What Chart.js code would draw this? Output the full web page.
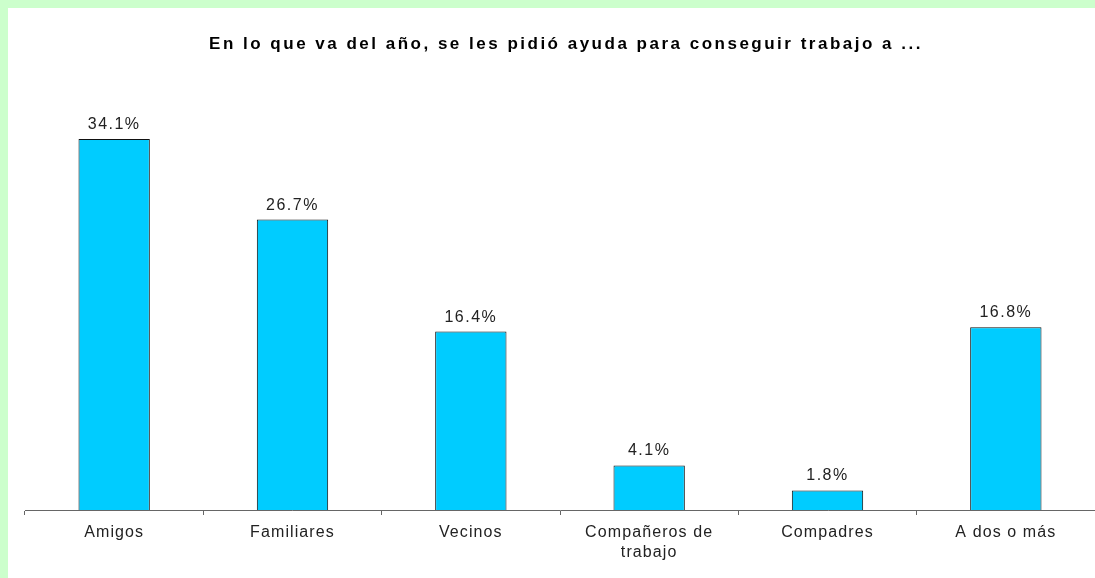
<!DOCTYPE html>
<html>
<head>
<meta charset="utf-8">
<script src="https://cdn.jsdelivr.net/npm/chart.js@4/dist/chart.umd.min.js"></script>
<style>
  html, body { margin: 0; padding: 0; }
  body { background: #ccffcc; width: 1095px; height: 578px; overflow: hidden; position: relative; }
  #wrap { position: absolute; left: 8px; top: 8px; width: 1114px; height: 570px; background: #fff; }
</style>
</head>
<body>
<div id="wrap"><canvas id="chart"></canvas></div>
<script>
const categories = ["Amigos", "Familiares", "Vecinos", ["Compañeros de", "trabajo"], "Compadres", "A dos o más"];
const values = [34.1, 26.7, 16.4, 4.1, 1.8, 16.8];
const titleText = "En lo que va del año, se les pidió ayuda para conseguir trabajo a ...";

// espaciado de letras como en el original (etiquetas del eje)
const spacing = {
  id: "spacing",
  beforeLayout(chart) { chart.ctx.letterSpacing = "1.1px"; },
  beforeDraw(chart) { chart.ctx.letterSpacing = "1.1px"; }
};

// etiquetas de porcentaje sobre cada barra
const barLabels = {
  id: "barLabels",
  afterDatasetsDraw(chart) {
    const ctx = chart.ctx;
    const meta = chart.getDatasetMeta(0);
    ctx.save();
    ctx.letterSpacing = "1.5px";
    ctx.font = "16px 'Liberation Sans', Arial, sans-serif";
    ctx.fillStyle = "#222";
    ctx.textAlign = "center";
    ctx.textBaseline = "alphabetic";
    meta.data.forEach((bar, i) => {
      ctx.fillText(values[i].toFixed(1) + "%", bar.x, bar.y - 10);
    });
    ctx.restore();
  }
};

Chart.defaults.font.family = "'Liberation Sans', Arial, sans-serif";
Chart.defaults.color = "#222";

const chart = new Chart(document.getElementById("chart").getContext("2d"), {
  type: "bar",
  data: {
    labels: categories,
    datasets: [
      {
        data: values,
        backgroundColor: "#00ccff",
        borderColor: "#111",
        borderWidth: 1,
        categoryPercentage: 1,
        barPercentage: 0.4,
      },
    ],
  },
  options: {
    responsive: true,
    maintainAspectRatio: false,
    animation: false,
    layout: { padding: { left: 17, right: 27, top: 0, bottom: 7 } },
    plugins: {
      legend: { display: false },
      tooltip: { enabled: false },
      title: {
        display: true,
        text: titleText,
        color: "#000",
        font: { size: 17, weight: "bold" },
        padding: { top: 26, bottom: 64 },
      },
    },
    scales: {
      x: {
        grid: {
          offset: true,
          drawOnChartArea: false,
          drawTicks: true,
          tickLength: 5,
          color: "#666",
        },
        border: { display: true, color: "#666", width: 1 },
        ticks: {
          maxRotation: 0,
          autoSkip: false,
          padding: 8,
          color: "#222",
          font: { size: 16, lineHeight: 1.25 },
        },
      },
      y: {
        display: false,
        min: 0,
        max: 36,
      },
    },
  },
  plugins: [spacing, barLabels],
});

// el título lleva su propio espaciado y va un poco a la derecha
const drawTitle = chart.titleBlock.draw.bind(chart.titleBlock);
chart.titleBlock.draw = function () {
  const ctx = chart.ctx;
  ctx.save();
  ctx.translate(6, 0);
  ctx.letterSpacing = "2.5px";
  drawTitle();
  ctx.restore();
};
chart.update();
</script>
</body>
</html>
